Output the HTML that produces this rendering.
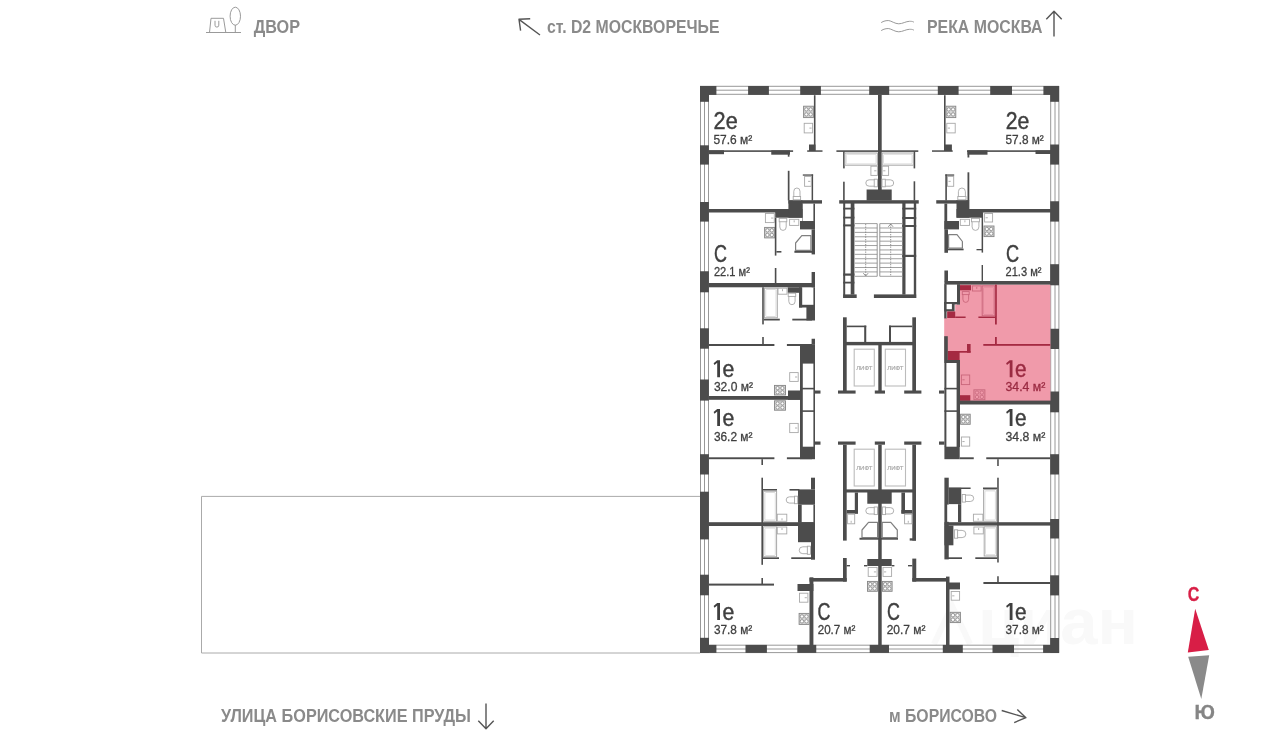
<!DOCTYPE html>
<html lang="ru"><head><meta charset="utf-8"><title>План этажа</title>
<style>
html,body{margin:0;padding:0;background:#fff;}
body{width:1280px;height:736px;overflow:hidden;font-family:"Liberation Sans",sans-serif;}
svg{display:block;will-change:transform;transform:translateZ(0);}
svg text{font-family:"Liberation Sans",sans-serif;}
</style></head><body>
<svg width="1280" height="736" viewBox="0 0 1280 736">
<rect width="1280" height="736" fill="#ffffff"/>
<path d="M700,496.4 H201.5 V653 H700" fill="none" stroke="#aaaaaa" stroke-width="1"/>
<text x="978" y="644" font-size="64" font-weight="bold" fill="#f9f9f9" textLength="160" lengthAdjust="spacingAndGlyphs">циан</text>
<path d="M934,644 L952,606 L970,644" fill="none" stroke="#f9f9f9" stroke-width="6"/>
<line x1="700.00" y1="86.30" x2="1059.00" y2="86.30" stroke="#8c8c8c" stroke-width="0.9" />
<line x1="700.00" y1="90.20" x2="1059.00" y2="90.20" stroke="#8c8c8c" stroke-width="0.9" />
<line x1="700.00" y1="94.30" x2="1059.00" y2="94.30" stroke="#8c8c8c" stroke-width="0.9" />
<line x1="700.00" y1="645.20" x2="1059.00" y2="645.20" stroke="#8c8c8c" stroke-width="0.9" />
<line x1="700.00" y1="649.00" x2="1059.00" y2="649.00" stroke="#8c8c8c" stroke-width="0.9" />
<line x1="700.00" y1="652.60" x2="1059.00" y2="652.60" stroke="#8c8c8c" stroke-width="0.9" />
<line x1="700.50" y1="86.00" x2="700.50" y2="652.90" stroke="#8c8c8c" stroke-width="0.9" />
<line x1="704.50" y1="86.00" x2="704.50" y2="652.90" stroke="#8c8c8c" stroke-width="0.9" />
<line x1="708.50" y1="86.00" x2="708.50" y2="652.90" stroke="#8c8c8c" stroke-width="0.9" />
<line x1="1050.70" y1="86.00" x2="1050.70" y2="652.90" stroke="#8c8c8c" stroke-width="0.9" />
<line x1="1055.00" y1="86.00" x2="1055.00" y2="652.90" stroke="#8c8c8c" stroke-width="0.9" />
<line x1="1058.90" y1="86.00" x2="1058.90" y2="652.90" stroke="#8c8c8c" stroke-width="0.9" />
<rect x="700.00" y="86.00" width="16.40" height="8.90" fill="#4c4c4c"/>
<rect x="748.10" y="86.00" width="20.80" height="8.90" fill="#4c4c4c"/>
<rect x="800.20" y="86.00" width="20.70" height="8.90" fill="#4c4c4c"/>
<rect x="869.20" y="86.00" width="20.00" height="8.90" fill="#4c4c4c"/>
<rect x="937.80" y="86.00" width="20.80" height="8.90" fill="#4c4c4c"/>
<rect x="990.20" y="86.00" width="21.80" height="8.90" fill="#4c4c4c"/>
<rect x="1043.40" y="86.00" width="15.60" height="8.90" fill="#4c4c4c"/>
<rect x="700.00" y="86.00" width="9.00" height="15.80" fill="#4c4c4c"/>
<rect x="1050.20" y="86.00" width="8.80" height="15.80" fill="#4c4c4c"/>
<rect x="700.00" y="644.90" width="16.40" height="8.00" fill="#4c4c4c"/>
<rect x="745.50" y="644.90" width="21.40" height="8.00" fill="#4c4c4c"/>
<rect x="797.30" y="644.90" width="18.95" height="8.00" fill="#4c4c4c"/>
<rect x="869.70" y="644.90" width="19.30" height="8.00" fill="#4c4c4c"/>
<rect x="942.80" y="644.90" width="20.00" height="8.00" fill="#4c4c4c"/>
<rect x="992.50" y="644.90" width="21.50" height="8.00" fill="#4c4c4c"/>
<rect x="1043.10" y="644.90" width="15.90" height="8.00" fill="#4c4c4c"/>
<rect x="700.00" y="637.80" width="9.00" height="15.10" fill="#4c4c4c"/>
<rect x="1050.20" y="638.00" width="8.80" height="14.90" fill="#4c4c4c"/>
<rect x="700.00" y="145.30" width="8.90" height="19.30" fill="#4c4c4c"/>
<rect x="700.00" y="202.00" width="8.90" height="19.60" fill="#4c4c4c"/>
<rect x="700.00" y="271.25" width="8.90" height="21.05" fill="#4c4c4c"/>
<rect x="700.00" y="328.30" width="8.90" height="20.40" fill="#4c4c4c"/>
<rect x="700.00" y="379.50" width="8.90" height="21.10" fill="#4c4c4c"/>
<rect x="700.00" y="454.20" width="8.90" height="20.30" fill="#4c4c4c"/>
<rect x="700.00" y="491.70" width="8.90" height="47.70" fill="#4c4c4c"/>
<rect x="700.00" y="574.70" width="8.90" height="20.60" fill="#4c4c4c"/>
<rect x="1050.20" y="144.50" width="8.80" height="20.10" fill="#4c4c4c"/>
<rect x="1050.20" y="201.25" width="8.80" height="20.35" fill="#4c4c4c"/>
<rect x="1050.20" y="264.20" width="8.80" height="21.10" fill="#4c4c4c"/>
<rect x="1050.20" y="328.75" width="8.80" height="20.25" fill="#4c4c4c"/>
<rect x="1050.20" y="391.50" width="8.80" height="20.80" fill="#4c4c4c"/>
<rect x="1050.20" y="454.20" width="8.80" height="20.30" fill="#4c4c4c"/>
<rect x="1050.20" y="519.00" width="8.80" height="19.50" fill="#4c4c4c"/>
<rect x="1050.20" y="575.30" width="8.80" height="20.10" fill="#4c4c4c"/>
<path d="M960,284.5 H1050.4 V401 H960 V360 H944.2 V318 H947.2 V311.7 H955.2 V304.4 H960 Z" fill="#f09aaa"/>
<rect x="878.00" y="95.00" width="3.70" height="105.00" fill="#4c4c4c"/>
<rect x="878.30" y="345.00" width="3.40" height="46.00" fill="#4c4c4c"/>
<rect x="874.80" y="390.50" width="10.20" height="3.10" fill="#4c4c4c"/>
<rect x="874.80" y="441.50" width="10.20" height="3.20" fill="#4c4c4c"/>
<rect x="878.20" y="444.70" width="3.50" height="200.30" fill="#4c4c4c"/>
<rect x="813.90" y="95.20" width="1.60" height="55.60" fill="#4c4c4c"/>
<rect x="809.00" y="144.50" width="6.50" height="6.50" fill="#4c4c4c"/>
<rect x="807.20" y="150.30" width="15.30" height="1.50" fill="#4c4c4c"/>
<rect x="708.40" y="150.30" width="84.70" height="1.60" fill="#4c4c4c"/>
<rect x="709.00" y="150.30" width="15.00" height="3.90" fill="#4c4c4c"/>
<rect x="771.25" y="150.30" width="18.75" height="4.40" fill="#4c4c4c"/>
<rect x="787.80" y="151.00" width="1.70" height="5.70" fill="#4c4c4c"/>
<rect x="787.80" y="170.80" width="1.70" height="29.70" fill="#4c4c4c"/>
<rect x="802.80" y="174.40" width="10.30" height="1.30" fill="#4c4c4c"/>
<rect x="811.60" y="174.40" width="1.50" height="26.10" fill="#4c4c4c"/>
<rect x="788.40" y="200.20" width="33.60" height="3.40" fill="#4c4c4c"/>
<rect x="788.40" y="200.50" width="14.10" height="17.20" fill="#4c4c4c"/>
<rect x="775.20" y="209.00" width="27.30" height="8.70" fill="#4c4c4c"/>
<rect x="708.40" y="209.00" width="80.00" height="3.50" fill="#4c4c4c"/>
<rect x="813.40" y="203.60" width="1.60" height="25.80" fill="#4c4c4c"/>
<rect x="800.00" y="221.00" width="15.00" height="8.40" fill="#4c4c4c"/>
<rect x="802.50" y="203.60" width="0.50" height="17.40" fill="#4c4c4c"/>
<rect x="811.60" y="229.40" width="3.40" height="25.00" fill="#4c4c4c"/>
<rect x="794.40" y="250.70" width="20.60" height="2.10" fill="#4c4c4c"/>
<rect x="774.80" y="217.70" width="1.60" height="37.90" fill="#4c4c4c"/>
<rect x="776.40" y="251.00" width="5.00" height="1.60" fill="#4c4c4c"/>
<rect x="774.80" y="268.00" width="1.60" height="15.40" fill="#4c4c4c"/>
<rect x="811.60" y="272.00" width="3.40" height="15.30" fill="#4c4c4c"/>
<rect x="709.00" y="283.00" width="106.00" height="4.30" fill="#4c4c4c"/>
<rect x="762.20" y="287.30" width="1.60" height="37.10" fill="#4c4c4c"/>
<rect x="763.75" y="318.70" width="16.05" height="1.80" fill="#4c4c4c"/>
<rect x="787.70" y="287.30" width="14.00" height="5.50" fill="#4c4c4c"/>
<rect x="799.00" y="287.30" width="3.20" height="20.20" fill="#4c4c4c"/>
<rect x="799.00" y="304.80" width="16.00" height="2.70" fill="#4c4c4c"/>
<rect x="813.40" y="287.30" width="1.60" height="18.00" fill="#4c4c4c"/>
<rect x="806.40" y="305.30" width="8.60" height="15.20" fill="#4c4c4c"/>
<rect x="792.30" y="318.70" width="19.70" height="1.80" fill="#4c4c4c"/>
<rect x="709.00" y="344.00" width="65.40" height="2.00" fill="#4c4c4c"/>
<rect x="762.20" y="337.00" width="1.60" height="7.40" fill="#4c4c4c"/>
<rect x="786.90" y="344.00" width="25.10" height="2.00" fill="#4c4c4c"/>
<rect x="811.60" y="338.75" width="3.40" height="5.95" fill="#4c4c4c"/>
<rect x="800.00" y="344.40" width="15.00" height="19.20" fill="#4c4c4c"/>
<rect x="800.00" y="363.00" width="2.80" height="84.00" fill="#4c4c4c"/>
<rect x="813.40" y="363.00" width="1.60" height="84.00" fill="#4c4c4c"/>
<rect x="800.00" y="387.80" width="15.00" height="1.60" fill="#4c4c4c"/>
<rect x="800.00" y="410.30" width="15.00" height="1.60" fill="#4c4c4c"/>
<rect x="800.00" y="446.70" width="15.00" height="12.50" fill="#4c4c4c"/>
<rect x="815.00" y="390.50" width="5.50" height="3.10" fill="#4c4c4c"/>
<rect x="815.00" y="441.50" width="5.50" height="3.20" fill="#4c4c4c"/>
<rect x="709.00" y="396.00" width="91.00" height="3.80" fill="#4c4c4c"/>
<rect x="788.00" y="390.50" width="12.00" height="9.30" fill="#4c4c4c"/>
<rect x="709.00" y="457.30" width="65.40" height="1.90" fill="#4c4c4c"/>
<rect x="761.40" y="459.20" width="1.60" height="5.80" fill="#4c4c4c"/>
<rect x="786.90" y="457.30" width="25.10" height="1.90" fill="#4c4c4c"/>
<rect x="811.00" y="477.70" width="4.00" height="11.70" fill="#4c4c4c"/>
<rect x="761.40" y="477.70" width="1.60" height="87.10" fill="#4c4c4c"/>
<rect x="763.00" y="489.00" width="14.00" height="1.60" fill="#4c4c4c"/>
<rect x="789.50" y="489.00" width="9.90" height="1.60" fill="#4c4c4c"/>
<rect x="798.00" y="489.40" width="17.00" height="15.30" fill="#4c4c4c"/>
<rect x="798.00" y="504.70" width="3.70" height="17.50" fill="#4c4c4c"/>
<rect x="813.40" y="504.70" width="1.60" height="17.50" fill="#4c4c4c"/>
<rect x="708.40" y="522.20" width="106.60" height="3.80" fill="#4c4c4c"/>
<rect x="798.00" y="522.20" width="17.00" height="20.00" fill="#4c4c4c"/>
<rect x="811.00" y="541.90" width="4.00" height="17.80" fill="#4c4c4c"/>
<rect x="763.00" y="557.30" width="16.00" height="1.70" fill="#4c4c4c"/>
<rect x="791.25" y="557.30" width="20.75" height="1.70" fill="#4c4c4c"/>
<rect x="709.00" y="583.60" width="65.00" height="2.00" fill="#4c4c4c"/>
<rect x="761.40" y="578.00" width="1.60" height="6.00" fill="#4c4c4c"/>
<rect x="797.50" y="584.00" width="15.90" height="7.00" fill="#4c4c4c"/>
<rect x="809.50" y="577.30" width="3.90" height="67.70" fill="#4c4c4c"/>
<rect x="809.50" y="578.00" width="37.20" height="3.60" fill="#4c4c4c"/>
<rect x="843.00" y="558.00" width="3.70" height="23.60" fill="#4c4c4c"/>
<rect x="846.70" y="565.00" width="3.30" height="1.40" fill="#4c4c4c"/>
<rect x="836.40" y="150.30" width="81.90" height="1.60" fill="#4c4c4c"/>
<rect x="843.10" y="151.25" width="1.60" height="17.15" fill="#4c4c4c"/>
<rect x="843.10" y="181.70" width="1.60" height="18.80" fill="#4c4c4c"/>
<rect x="913.60" y="151.25" width="1.60" height="17.15" fill="#4c4c4c"/>
<rect x="913.60" y="181.30" width="1.60" height="19.20" fill="#4c4c4c"/>
<rect x="866.60" y="189.50" width="25.10" height="11.00" fill="#4c4c4c"/>
<rect x="839.20" y="200.20" width="79.55" height="3.40" fill="#4c4c4c"/>
<rect x="843.20" y="203.00" width="2.00" height="95.00" fill="#4c4c4c"/>
<rect x="850.70" y="203.00" width="3.70" height="91.60" fill="#4c4c4c"/>
<rect x="843.20" y="207.70" width="11.20" height="1.80" fill="#4c4c4c"/>
<rect x="843.20" y="216.70" width="11.20" height="1.80" fill="#4c4c4c"/>
<rect x="843.20" y="224.40" width="11.20" height="2.00" fill="#4c4c4c"/>
<rect x="843.20" y="273.50" width="11.20" height="2.20" fill="#4c4c4c"/>
<rect x="843.20" y="281.70" width="11.20" height="1.80" fill="#4c4c4c"/>
<rect x="843.20" y="294.40" width="13.50" height="3.60" fill="#4c4c4c"/>
<rect x="902.30" y="203.00" width="3.20" height="91.60" fill="#4c4c4c"/>
<rect x="913.80" y="203.00" width="2.40" height="95.00" fill="#4c4c4c"/>
<rect x="902.30" y="207.70" width="13.90" height="1.80" fill="#4c4c4c"/>
<rect x="902.30" y="217.00" width="13.90" height="2.00" fill="#4c4c4c"/>
<rect x="902.30" y="225.00" width="13.90" height="2.00" fill="#4c4c4c"/>
<rect x="902.30" y="254.80" width="13.90" height="2.20" fill="#4c4c4c"/>
<rect x="873.90" y="294.40" width="42.30" height="3.60" fill="#4c4c4c"/>
<line x1="854.40" y1="223.60" x2="877.20" y2="223.60" stroke="#a0a0a0" stroke-width="1.0" />
<line x1="879.80" y1="223.60" x2="902.30" y2="223.60" stroke="#a0a0a0" stroke-width="1.0" />
<line x1="854.40" y1="227.99" x2="877.20" y2="227.99" stroke="#a0a0a0" stroke-width="1.0" />
<line x1="879.80" y1="227.99" x2="902.30" y2="227.99" stroke="#a0a0a0" stroke-width="1.0" />
<line x1="854.40" y1="232.38" x2="877.20" y2="232.38" stroke="#a0a0a0" stroke-width="1.0" />
<line x1="879.80" y1="232.38" x2="902.30" y2="232.38" stroke="#a0a0a0" stroke-width="1.0" />
<line x1="854.40" y1="236.78" x2="877.20" y2="236.78" stroke="#a0a0a0" stroke-width="1.0" />
<line x1="879.80" y1="236.78" x2="902.30" y2="236.78" stroke="#a0a0a0" stroke-width="1.0" />
<line x1="854.40" y1="241.17" x2="877.20" y2="241.17" stroke="#a0a0a0" stroke-width="1.0" />
<line x1="879.80" y1="241.17" x2="902.30" y2="241.17" stroke="#a0a0a0" stroke-width="1.0" />
<line x1="854.40" y1="245.56" x2="877.20" y2="245.56" stroke="#a0a0a0" stroke-width="1.0" />
<line x1="879.80" y1="245.56" x2="902.30" y2="245.56" stroke="#a0a0a0" stroke-width="1.0" />
<line x1="854.40" y1="249.95" x2="877.20" y2="249.95" stroke="#a0a0a0" stroke-width="1.0" />
<line x1="879.80" y1="249.95" x2="902.30" y2="249.95" stroke="#a0a0a0" stroke-width="1.0" />
<line x1="854.40" y1="254.34" x2="877.20" y2="254.34" stroke="#a0a0a0" stroke-width="1.0" />
<line x1="879.80" y1="254.34" x2="902.30" y2="254.34" stroke="#a0a0a0" stroke-width="1.0" />
<line x1="854.40" y1="258.73" x2="877.20" y2="258.73" stroke="#a0a0a0" stroke-width="1.0" />
<line x1="879.80" y1="258.73" x2="902.30" y2="258.73" stroke="#a0a0a0" stroke-width="1.0" />
<line x1="854.40" y1="263.12" x2="877.20" y2="263.12" stroke="#a0a0a0" stroke-width="1.0" />
<line x1="879.80" y1="263.12" x2="902.30" y2="263.12" stroke="#a0a0a0" stroke-width="1.0" />
<line x1="854.40" y1="267.52" x2="877.20" y2="267.52" stroke="#a0a0a0" stroke-width="1.0" />
<line x1="879.80" y1="267.52" x2="902.30" y2="267.52" stroke="#a0a0a0" stroke-width="1.0" />
<line x1="854.40" y1="271.91" x2="877.20" y2="271.91" stroke="#a0a0a0" stroke-width="1.0" />
<line x1="879.80" y1="271.91" x2="902.30" y2="271.91" stroke="#a0a0a0" stroke-width="1.0" />
<line x1="854.40" y1="276.30" x2="877.20" y2="276.30" stroke="#a0a0a0" stroke-width="1.0" />
<line x1="879.80" y1="276.30" x2="902.30" y2="276.30" stroke="#a0a0a0" stroke-width="1.0" />
<line x1="877.20" y1="223.60" x2="877.20" y2="276.30" stroke="#8a8a8a" stroke-width="0.9" />
<line x1="879.80" y1="223.60" x2="879.80" y2="276.30" stroke="#8a8a8a" stroke-width="0.9" />
<line x1="865.70" y1="224.00" x2="865.70" y2="276.00" stroke="#777" stroke-width="0.8" stroke-dasharray="1.3 1.2"/>
<line x1="890.70" y1="224.00" x2="890.70" y2="276.00" stroke="#777" stroke-width="0.8" stroke-dasharray="1.3 1.2"/>
<path d="M863.3,273.2 L865.7,276 L868.1,273.2" fill="none" stroke="#777" stroke-width="0.8" stroke-linejoin="round"/>
<path d="M888.3,226.8 L890.7,224 L893.1,226.8" fill="none" stroke="#777" stroke-width="0.8" stroke-linejoin="round"/>
<rect x="843.00" y="317.30" width="3.70" height="73.70" fill="#4c4c4c"/>
<rect x="838.00" y="390.50" width="17.60" height="3.10" fill="#4c4c4c"/>
<rect x="846.70" y="325.60" width="19.55" height="1.60" fill="#4c4c4c"/>
<rect x="864.20" y="325.60" width="2.05" height="16.70" fill="#4c4c4c"/>
<rect x="843.00" y="341.90" width="73.00" height="3.40" fill="#4c4c4c"/>
<rect x="912.30" y="317.30" width="3.70" height="73.70" fill="#4c4c4c"/>
<rect x="904.20" y="390.50" width="17.20" height="3.10" fill="#4c4c4c"/>
<rect x="889.00" y="325.60" width="23.30" height="1.60" fill="#4c4c4c"/>
<rect x="889.00" y="325.60" width="2.00" height="16.70" fill="#4c4c4c"/>
<rect x="854.20" y="349.20" width="20.10" height="36.80" fill="none" stroke="#bcbcbc" stroke-width="1.1" rx="0"/>
<text x="864.25" y="369.90" font-size="5.8" fill="#a8a8a8" stroke="#a8a8a8" stroke-width="0.15" text-anchor="middle" textLength="16.2" lengthAdjust="spacingAndGlyphs">ЛИФТ</text>
<rect x="885.30" y="349.20" width="20.20" height="36.80" fill="none" stroke="#bcbcbc" stroke-width="1.1" rx="0"/>
<text x="895.40" y="369.90" font-size="5.8" fill="#a8a8a8" stroke="#a8a8a8" stroke-width="0.15" text-anchor="middle" textLength="16.2" lengthAdjust="spacingAndGlyphs">ЛИФТ</text>
<rect x="838.00" y="441.50" width="17.60" height="3.20" fill="#4c4c4c"/>
<rect x="904.20" y="441.50" width="17.20" height="3.20" fill="#4c4c4c"/>
<rect x="843.00" y="444.70" width="3.70" height="95.90" fill="#4c4c4c"/>
<rect x="912.30" y="444.70" width="3.70" height="95.90" fill="#4c4c4c"/>
<rect x="854.20" y="449.20" width="20.10" height="36.80" fill="none" stroke="#bcbcbc" stroke-width="1.1" rx="0"/>
<text x="864.25" y="469.90" font-size="5.8" fill="#a8a8a8" stroke="#a8a8a8" stroke-width="0.15" text-anchor="middle" textLength="16.2" lengthAdjust="spacingAndGlyphs">ЛИФТ</text>
<rect x="885.30" y="449.20" width="20.20" height="36.80" fill="none" stroke="#bcbcbc" stroke-width="1.1" rx="0"/>
<text x="895.40" y="469.90" font-size="5.8" fill="#a8a8a8" stroke="#a8a8a8" stroke-width="0.15" text-anchor="middle" textLength="16.2" lengthAdjust="spacingAndGlyphs">ЛИФТ</text>
<rect x="843.00" y="489.40" width="73.00" height="3.10" fill="#4c4c4c"/>
<rect x="867.30" y="490.00" width="24.40" height="13.75" fill="#4c4c4c"/>
<rect x="854.80" y="492.50" width="3.20" height="21.10" fill="#4c4c4c"/>
<rect x="846.70" y="510.00" width="11.30" height="3.60" fill="#4c4c4c"/>
<rect x="901.40" y="492.50" width="3.60" height="21.10" fill="#4c4c4c"/>
<rect x="901.40" y="510.00" width="10.90" height="3.60" fill="#4c4c4c"/>
<rect x="859.50" y="537.80" width="38.50" height="1.90" fill="#4c4c4c"/>
<rect x="909.70" y="538.30" width="6.30" height="2.30" fill="#4c4c4c"/>
<rect x="867.30" y="559.00" width="24.40" height="7.00" fill="#4c4c4c"/>
<rect x="864.00" y="565.00" width="3.30" height="1.40" fill="#4c4c4c"/>
<rect x="891.70" y="565.00" width="2.70" height="1.40" fill="#4c4c4c"/>
<rect x="912.30" y="558.60" width="3.95" height="23.00" fill="#4c4c4c"/>
<rect x="908.00" y="565.00" width="4.30" height="1.40" fill="#4c4c4c"/>
<rect x="912.30" y="578.00" width="35.20" height="3.60" fill="#4c4c4c"/>
<rect x="946.00" y="576.60" width="3.50" height="68.40" fill="#4c4c4c"/>
<rect x="947.20" y="582.50" width="12.80" height="6.90" fill="#4c4c4c"/>
<rect x="944.00" y="95.20" width="1.60" height="55.60" fill="#4c4c4c"/>
<rect x="944.00" y="144.50" width="7.90" height="6.50" fill="#4c4c4c"/>
<rect x="932.00" y="150.30" width="20.70" height="1.50" fill="#4c4c4c"/>
<rect x="967.00" y="150.30" width="84.00" height="1.60" fill="#4c4c4c"/>
<rect x="967.50" y="150.30" width="20.00" height="4.40" fill="#4c4c4c"/>
<rect x="1035.50" y="150.30" width="15.50" height="3.70" fill="#4c4c4c"/>
<rect x="967.50" y="151.00" width="1.80" height="6.50" fill="#4c4c4c"/>
<rect x="967.50" y="172.30" width="1.80" height="28.20" fill="#4c4c4c"/>
<rect x="945.30" y="174.40" width="8.90" height="1.30" fill="#4c4c4c"/>
<rect x="945.30" y="174.40" width="1.60" height="26.10" fill="#4c4c4c"/>
<rect x="936.25" y="200.20" width="32.75" height="3.40" fill="#4c4c4c"/>
<rect x="956.50" y="200.20" width="12.90" height="17.50" fill="#4c4c4c"/>
<rect x="956.50" y="209.00" width="26.30" height="8.70" fill="#4c4c4c"/>
<rect x="969.00" y="209.00" width="82.00" height="3.50" fill="#4c4c4c"/>
<rect x="944.40" y="203.60" width="2.80" height="25.80" fill="#4c4c4c"/>
<rect x="944.40" y="221.00" width="14.60" height="8.40" fill="#4c4c4c"/>
<rect x="944.40" y="229.40" width="3.60" height="23.40" fill="#4c4c4c"/>
<rect x="948.00" y="248.60" width="15.60" height="1.70" fill="#4c4c4c"/>
<rect x="981.60" y="212.50" width="1.50" height="40.10" fill="#4c4c4c"/>
<rect x="976.50" y="249.00" width="5.50" height="1.30" fill="#4c4c4c"/>
<rect x="981.60" y="265.00" width="1.40" height="16.00" fill="#4c4c4c"/>
<rect x="944.40" y="270.50" width="3.60" height="10.90" fill="#4c4c4c"/>
<rect x="944.40" y="281.00" width="106.60" height="3.60" fill="#4c4c4c"/>
<rect x="944.20" y="284.20" width="2.40" height="34.20" fill="#4c4c4c"/>
<rect x="957.00" y="284.20" width="3.00" height="20.20" fill="#4c4c4c"/>
<rect x="944.20" y="302.00" width="15.80" height="2.40" fill="#4c4c4c"/>
<rect x="944.20" y="302.00" width="10.40" height="9.40" fill="#4c4c4c"/>
<rect x="946.60" y="303.90" width="5.30" height="5.30" fill="#fff"/>
<rect x="960.00" y="285.20" width="11.00" height="5.10" fill="#a52a42"/>
<rect x="947.20" y="311.40" width="8.00" height="6.60" fill="#a52a42"/>
<rect x="955.20" y="316.50" width="10.40" height="1.50" fill="#a52a42"/>
<rect x="978.40" y="316.50" width="17.60" height="1.50" fill="#a52a42"/>
<rect x="995.00" y="284.60" width="1.80" height="39.90" fill="#a52a42"/>
<rect x="995.00" y="337.00" width="1.80" height="7.70" fill="#a52a42"/>
<rect x="983.30" y="344.00" width="67.00" height="1.80" fill="#a52a42"/>
<rect x="967.00" y="344.00" width="3.60" height="8.70" fill="#a52a42"/>
<rect x="947.80" y="351.00" width="22.80" height="1.70" fill="#a52a42"/>
<rect x="947.80" y="351.80" width="11.80" height="8.20" fill="#a52a42"/>
<rect x="944.20" y="336.20" width="3.60" height="23.80" fill="#4c4c4c"/>
<rect x="960.00" y="395.20" width="10.30" height="5.60" fill="#a52a42"/>
<rect x="960.00" y="400.60" width="91.00" height="3.90" fill="#4c4c4c"/>
<rect x="944.40" y="360.00" width="2.00" height="87.00" fill="#4c4c4c"/>
<rect x="956.60" y="360.00" width="3.40" height="87.00" fill="#4c4c4c"/>
<rect x="944.40" y="360.00" width="15.60" height="3.00" fill="#4c4c4c"/>
<rect x="944.40" y="387.80" width="15.60" height="1.60" fill="#4c4c4c"/>
<rect x="944.40" y="410.30" width="15.60" height="1.60" fill="#4c4c4c"/>
<rect x="944.40" y="446.70" width="15.30" height="12.50" fill="#4c4c4c"/>
<rect x="939.00" y="390.50" width="5.40" height="3.10" fill="#4c4c4c"/>
<rect x="939.00" y="441.50" width="5.40" height="3.20" fill="#4c4c4c"/>
<rect x="986.25" y="457.30" width="64.05" height="1.90" fill="#4c4c4c"/>
<rect x="997.20" y="459.20" width="1.55" height="6.80" fill="#4c4c4c"/>
<rect x="959.70" y="457.30" width="14.05" height="1.90" fill="#4c4c4c"/>
<rect x="944.40" y="477.70" width="4.35" height="81.70" fill="#4c4c4c"/>
<rect x="948.75" y="487.80" width="12.50" height="16.40" fill="#4c4c4c"/>
<rect x="948.75" y="487.50" width="21.85" height="1.50" fill="#4c4c4c"/>
<rect x="958.00" y="504.20" width="3.25" height="18.00" fill="#4c4c4c"/>
<rect x="947.20" y="504.60" width="10.80" height="17.20" fill="#fff"/>
<rect x="944.40" y="522.20" width="106.60" height="3.40" fill="#4c4c4c"/>
<rect x="997.20" y="477.70" width="1.55" height="84.80" fill="#4c4c4c"/>
<rect x="983.00" y="487.50" width="14.20" height="1.50" fill="#4c4c4c"/>
<rect x="944.40" y="525.60" width="9.00" height="19.70" fill="#4c4c4c"/>
<rect x="948.00" y="557.30" width="14.00" height="1.70" fill="#4c4c4c"/>
<rect x="975.30" y="557.30" width="21.90" height="1.70" fill="#4c4c4c"/>
<rect x="983.40" y="582.00" width="66.90" height="2.00" fill="#4c4c4c"/>
<rect x="997.20" y="576.25" width="1.55" height="6.25" fill="#4c4c4c"/>
<rect x="803.60" y="106.20" width="9.80" height="11.40" fill="#d6d6d6" stroke="#858585" stroke-width="0.9" rx="0"/>
<circle cx="806.34" cy="109.39" r="1.67" fill="#fff" stroke="#858585" stroke-width="0.8"/>
<circle cx="806.34" cy="114.41" r="1.67" fill="#fff" stroke="#858585" stroke-width="0.8"/>
<circle cx="810.66" cy="109.39" r="1.67" fill="#fff" stroke="#858585" stroke-width="0.8"/>
<circle cx="810.66" cy="114.41" r="1.67" fill="#fff" stroke="#858585" stroke-width="0.8"/>
<rect x="804.20" y="123.30" width="8.40" height="9.60" fill="none" stroke="#a8a8a8" stroke-width="0.9" rx="0"/>
<line x1="809.40" y1="128.10" x2="811.60" y2="128.10" stroke="#a8a8a8" stroke-width="0.9" />
<rect x="804.60" y="176.40" width="6.70" height="9.90" fill="none" stroke="#a8a8a8" stroke-width="0.9" rx="0"/>
<line x1="808.10" y1="181.35" x2="810.30" y2="181.35" stroke="#a8a8a8" stroke-width="0.9" />
<rect x="793.20" y="196.50" width="7.40" height="3.30" fill="none" stroke="#a8a8a8" stroke-width="0.9" rx="0"/>
<path d="M793.80,196.50 V191.33 A3.10,3.33 0 0 1 800.00,191.33 V196.50" fill="none" stroke="#a8a8a8" stroke-width="0.9" stroke-linejoin="round"/>
<rect x="946.00" y="106.20" width="9.80" height="11.40" fill="#d6d6d6" stroke="#858585" stroke-width="0.9" rx="0"/>
<circle cx="948.74" cy="109.39" r="1.67" fill="#fff" stroke="#858585" stroke-width="0.8"/>
<circle cx="948.74" cy="114.41" r="1.67" fill="#fff" stroke="#858585" stroke-width="0.8"/>
<circle cx="953.06" cy="109.39" r="1.67" fill="#fff" stroke="#858585" stroke-width="0.8"/>
<circle cx="953.06" cy="114.41" r="1.67" fill="#fff" stroke="#858585" stroke-width="0.8"/>
<rect x="946.80" y="123.30" width="8.40" height="9.60" fill="none" stroke="#a8a8a8" stroke-width="0.9" rx="0"/>
<line x1="947.80" y1="128.10" x2="950.00" y2="128.10" stroke="#a8a8a8" stroke-width="0.9" />
<rect x="947.50" y="176.40" width="6.20" height="9.90" fill="none" stroke="#a8a8a8" stroke-width="0.9" rx="0"/>
<line x1="948.50" y1="181.35" x2="950.70" y2="181.35" stroke="#a8a8a8" stroke-width="0.9" />
<rect x="957.80" y="196.50" width="8.20" height="3.30" fill="none" stroke="#a8a8a8" stroke-width="0.9" rx="0"/>
<path d="M958.40,196.50 V191.69 A3.50,3.69 0 0 1 965.40,191.69 V196.50" fill="none" stroke="#a8a8a8" stroke-width="0.9" stroke-linejoin="round"/>
<rect x="844.90" y="153.00" width="32.50" height="12.20" fill="none" stroke="#a8a8a8" stroke-width="1.0" rx="0"/>
<rect x="846.20" y="154.30" width="29.90" height="9.60" fill="none" stroke="#cfcfcf" stroke-width="0.7" rx="1"/>
<rect x="882.20" y="153.00" width="31.20" height="12.20" fill="none" stroke="#a8a8a8" stroke-width="1.0" rx="0"/>
<rect x="883.50" y="154.30" width="28.60" height="9.60" fill="none" stroke="#cfcfcf" stroke-width="0.7" rx="1"/>
<rect x="870.90" y="166.20" width="6.50" height="9.20" fill="none" stroke="#a8a8a8" stroke-width="0.9" rx="0"/>
<line x1="874.20" y1="170.80" x2="876.40" y2="170.80" stroke="#a8a8a8" stroke-width="0.9" />
<rect x="882.20" y="166.20" width="6.40" height="9.20" fill="none" stroke="#a8a8a8" stroke-width="0.9" rx="0"/>
<line x1="883.20" y1="170.80" x2="885.40" y2="170.80" stroke="#a8a8a8" stroke-width="0.9" />
<rect x="874.22" y="179.20" width="3.28" height="7.60" fill="none" stroke="#a8a8a8" stroke-width="0.9" rx="0"/>
<path d="M874.22,179.80 H869.22 A3.42,3.20 0 0 0 869.22,186.20 H874.22" fill="none" stroke="#a8a8a8" stroke-width="0.9" stroke-linejoin="round"/>
<rect x="882.00" y="179.20" width="3.28" height="7.60" fill="none" stroke="#a8a8a8" stroke-width="0.9" rx="0"/>
<path d="M885.28,179.80 H890.28 A3.42,3.20 0 0 1 890.28,186.20 H885.28" fill="none" stroke="#a8a8a8" stroke-width="0.9" stroke-linejoin="round"/>
<rect x="765.40" y="213.50" width="8.90" height="9.10" fill="none" stroke="#a8a8a8" stroke-width="0.9" rx="0"/>
<line x1="771.10" y1="218.05" x2="773.30" y2="218.05" stroke="#a8a8a8" stroke-width="0.9" />
<rect x="764.60" y="227.40" width="10.00" height="10.50" fill="#d6d6d6" stroke="#858585" stroke-width="0.9" rx="0"/>
<circle cx="767.40" cy="230.34" r="1.70" fill="#fff" stroke="#858585" stroke-width="0.8"/>
<circle cx="767.40" cy="234.96" r="1.70" fill="#fff" stroke="#858585" stroke-width="0.8"/>
<circle cx="771.80" cy="230.34" r="1.70" fill="#fff" stroke="#858585" stroke-width="0.8"/>
<circle cx="771.80" cy="234.96" r="1.70" fill="#fff" stroke="#858585" stroke-width="0.8"/>
<rect x="779.20" y="218.40" width="7.60" height="3.36" fill="none" stroke="#a8a8a8" stroke-width="0.9" rx="0"/>
<path d="M779.80,221.76 V226.98 A3.20,3.42 0 0 0 786.20,226.98 V221.76" fill="none" stroke="#a8a8a8" stroke-width="0.9" stroke-linejoin="round"/>
<rect x="789.60" y="219.30" width="9.20" height="6.10" fill="none" stroke="#a8a8a8" stroke-width="0.9" rx="0"/>
<line x1="794.20" y1="220.30" x2="794.20" y2="222.30" stroke="#a8a8a8" stroke-width="0.9" />
<path d="M801.8,235.7 H810.9 V250.3 H795.6 V243 Z" fill="none" stroke="#808080" stroke-width="1.2" stroke-linejoin="round"/>
<rect x="984.60" y="213.50" width="8.00" height="8.50" fill="none" stroke="#a8a8a8" stroke-width="0.9" rx="0"/>
<line x1="985.60" y1="217.75" x2="987.80" y2="217.75" stroke="#a8a8a8" stroke-width="0.9" />
<rect x="984.00" y="226.00" width="10.00" height="10.60" fill="#d6d6d6" stroke="#858585" stroke-width="0.9" rx="0"/>
<circle cx="986.80" cy="228.97" r="1.70" fill="#fff" stroke="#858585" stroke-width="0.8"/>
<circle cx="986.80" cy="233.63" r="1.70" fill="#fff" stroke="#858585" stroke-width="0.8"/>
<circle cx="991.20" cy="228.97" r="1.70" fill="#fff" stroke="#858585" stroke-width="0.8"/>
<circle cx="991.20" cy="233.63" r="1.70" fill="#fff" stroke="#858585" stroke-width="0.8"/>
<rect x="971.50" y="218.40" width="8.00" height="3.36" fill="none" stroke="#a8a8a8" stroke-width="0.9" rx="0"/>
<path d="M972.10,221.76 V226.80 A3.40,3.60 0 0 0 978.90,226.80 V221.76" fill="none" stroke="#a8a8a8" stroke-width="0.9" stroke-linejoin="round"/>
<rect x="960.30" y="219.30" width="9.20" height="6.10" fill="none" stroke="#a8a8a8" stroke-width="0.9" rx="0"/>
<line x1="964.90" y1="220.30" x2="964.90" y2="222.30" stroke="#a8a8a8" stroke-width="0.9" />
<path d="M957,234.6 H948.6 V248.2 H962.4 V241.5 Z" fill="none" stroke="#808080" stroke-width="1.2" stroke-linejoin="round"/>
<rect x="764.40" y="288.20" width="12.90" height="29.60" fill="none" stroke="#a8a8a8" stroke-width="1.0" rx="0"/>
<rect x="765.70" y="289.50" width="10.30" height="27.00" fill="none" stroke="#cfcfcf" stroke-width="0.7" rx="1"/>
<rect x="778.00" y="288.20" width="9.00" height="6.00" fill="none" stroke="#a8a8a8" stroke-width="0.9" rx="0"/>
<line x1="782.50" y1="289.20" x2="782.50" y2="291.20" stroke="#a8a8a8" stroke-width="0.9" />
<rect x="788.20" y="293.20" width="7.50" height="3.22" fill="none" stroke="#a8a8a8" stroke-width="0.9" rx="0"/>
<path d="M788.80,296.42 V301.32 A3.15,3.38 0 0 0 795.10,301.32 V296.42" fill="none" stroke="#a8a8a8" stroke-width="0.9" stroke-linejoin="round"/>
<rect x="789.70" y="372.60" width="8.50" height="8.80" fill="none" stroke="#a8a8a8" stroke-width="0.9" rx="0"/>
<line x1="795.00" y1="377.00" x2="797.20" y2="377.00" stroke="#a8a8a8" stroke-width="0.9" />
<rect x="774.50" y="385.40" width="11.00" height="9.60" fill="#d6d6d6" stroke="#858585" stroke-width="0.9" rx="0"/>
<circle cx="777.58" cy="388.09" r="1.63" fill="#fff" stroke="#858585" stroke-width="0.8"/>
<circle cx="777.58" cy="392.31" r="1.63" fill="#fff" stroke="#858585" stroke-width="0.8"/>
<circle cx="782.42" cy="388.09" r="1.63" fill="#fff" stroke="#858585" stroke-width="0.8"/>
<circle cx="782.42" cy="392.31" r="1.63" fill="#fff" stroke="#858585" stroke-width="0.8"/>
<rect x="774.50" y="400.80" width="11.00" height="9.40" fill="#d6d6d6" stroke="#858585" stroke-width="0.9" rx="0"/>
<circle cx="777.58" cy="403.43" r="1.60" fill="#fff" stroke="#858585" stroke-width="0.8"/>
<circle cx="777.58" cy="407.57" r="1.60" fill="#fff" stroke="#858585" stroke-width="0.8"/>
<circle cx="782.42" cy="403.43" r="1.60" fill="#fff" stroke="#858585" stroke-width="0.8"/>
<circle cx="782.42" cy="407.57" r="1.60" fill="#fff" stroke="#858585" stroke-width="0.8"/>
<rect x="789.70" y="423.40" width="8.50" height="9.20" fill="none" stroke="#a8a8a8" stroke-width="0.9" rx="0"/>
<line x1="795.00" y1="428.00" x2="797.20" y2="428.00" stroke="#a8a8a8" stroke-width="0.9" />
<rect x="763.60" y="491.20" width="13.00" height="30.10" fill="none" stroke="#a8a8a8" stroke-width="1.0" rx="0"/>
<rect x="764.90" y="492.50" width="10.40" height="27.50" fill="none" stroke="#cfcfcf" stroke-width="0.7" rx="1"/>
<rect x="777.20" y="514.20" width="9.60" height="7.10" fill="none" stroke="#a8a8a8" stroke-width="0.9" rx="0"/>
<line x1="782.00" y1="518.30" x2="782.00" y2="520.30" stroke="#a8a8a8" stroke-width="0.9" />
<rect x="794.48" y="496.20" width="3.22" height="7.50" fill="none" stroke="#a8a8a8" stroke-width="0.9" rx="0"/>
<path d="M794.48,496.80 H789.58 A3.38,3.15 0 0 0 789.58,503.10 H794.48" fill="none" stroke="#a8a8a8" stroke-width="0.9" stroke-linejoin="round"/>
<rect x="763.60" y="526.80" width="13.00" height="30.00" fill="none" stroke="#a8a8a8" stroke-width="1.0" rx="0"/>
<rect x="764.90" y="528.10" width="10.40" height="27.40" fill="none" stroke="#cfcfcf" stroke-width="0.7" rx="1"/>
<rect x="777.20" y="527.00" width="9.60" height="6.90" fill="none" stroke="#a8a8a8" stroke-width="0.9" rx="0"/>
<line x1="782.00" y1="528.00" x2="782.00" y2="530.00" stroke="#a8a8a8" stroke-width="0.9" />
<rect x="807.34" y="546.20" width="3.16" height="8.10" fill="none" stroke="#a8a8a8" stroke-width="0.9" rx="0"/>
<path d="M807.34,546.80 H802.85 A3.64,3.45 0 0 0 802.85,553.70 H807.34" fill="none" stroke="#a8a8a8" stroke-width="0.9" stroke-linejoin="round"/>
<rect x="799.50" y="593.20" width="8.40" height="9.00" fill="none" stroke="#a8a8a8" stroke-width="0.9" rx="0"/>
<line x1="804.70" y1="597.70" x2="806.90" y2="597.70" stroke="#a8a8a8" stroke-width="0.9" />
<rect x="799.10" y="613.40" width="10.20" height="11.00" fill="#d6d6d6" stroke="#858585" stroke-width="0.9" rx="0"/>
<circle cx="801.96" cy="616.48" r="1.73" fill="#fff" stroke="#858585" stroke-width="0.8"/>
<circle cx="801.96" cy="621.32" r="1.73" fill="#fff" stroke="#858585" stroke-width="0.8"/>
<circle cx="806.44" cy="616.48" r="1.73" fill="#fff" stroke="#858585" stroke-width="0.8"/>
<circle cx="806.44" cy="621.32" r="1.73" fill="#fff" stroke="#858585" stroke-width="0.8"/>
<rect x="868.20" y="567.40" width="8.90" height="9.00" fill="none" stroke="#a8a8a8" stroke-width="0.9" rx="0"/>
<line x1="873.90" y1="571.90" x2="876.10" y2="571.90" stroke="#a8a8a8" stroke-width="0.9" />
<rect x="867.50" y="581.40" width="9.90" height="9.90" fill="#d6d6d6" stroke="#858585" stroke-width="0.9" rx="0"/>
<circle cx="870.27" cy="584.17" r="1.68" fill="#fff" stroke="#858585" stroke-width="0.8"/>
<circle cx="870.27" cy="588.53" r="1.68" fill="#fff" stroke="#858585" stroke-width="0.8"/>
<circle cx="874.63" cy="584.17" r="1.68" fill="#fff" stroke="#858585" stroke-width="0.8"/>
<circle cx="874.63" cy="588.53" r="1.68" fill="#fff" stroke="#858585" stroke-width="0.8"/>
<rect x="883.00" y="567.40" width="8.60" height="9.00" fill="none" stroke="#a8a8a8" stroke-width="0.9" rx="0"/>
<line x1="884.00" y1="571.90" x2="886.20" y2="571.90" stroke="#a8a8a8" stroke-width="0.9" />
<rect x="882.40" y="581.40" width="9.70" height="9.90" fill="#d6d6d6" stroke="#858585" stroke-width="0.9" rx="0"/>
<circle cx="885.12" cy="584.17" r="1.65" fill="#fff" stroke="#858585" stroke-width="0.8"/>
<circle cx="885.12" cy="588.53" r="1.65" fill="#fff" stroke="#858585" stroke-width="0.8"/>
<circle cx="889.38" cy="584.17" r="1.65" fill="#fff" stroke="#858585" stroke-width="0.8"/>
<circle cx="889.38" cy="588.53" r="1.65" fill="#fff" stroke="#858585" stroke-width="0.8"/>
<rect x="847.60" y="514.20" width="7.10" height="9.60" fill="none" stroke="#a8a8a8" stroke-width="0.9" rx="0"/>
<line x1="851.15" y1="520.80" x2="851.15" y2="522.80" stroke="#a8a8a8" stroke-width="0.9" />
<rect x="904.60" y="514.20" width="7.30" height="9.60" fill="none" stroke="#a8a8a8" stroke-width="0.9" rx="0"/>
<line x1="908.25" y1="520.80" x2="908.25" y2="522.80" stroke="#a8a8a8" stroke-width="0.9" />
<rect x="874.22" y="507.00" width="3.28" height="7.60" fill="none" stroke="#a8a8a8" stroke-width="0.9" rx="0"/>
<path d="M874.22,507.60 H869.22 A3.42,3.20 0 0 0 869.22,514.00 H874.22" fill="none" stroke="#a8a8a8" stroke-width="0.9" stroke-linejoin="round"/>
<rect x="882.40" y="507.00" width="3.16" height="7.60" fill="none" stroke="#a8a8a8" stroke-width="0.9" rx="0"/>
<path d="M885.56,507.60 H890.28 A3.42,3.20 0 0 1 890.28,514.00 H885.56" fill="none" stroke="#a8a8a8" stroke-width="0.9" stroke-linejoin="round"/>
<path d="M868.5,522.4 H877.6 V537.6 H862 V530 Z" fill="none" stroke="#808080" stroke-width="1.2" stroke-linejoin="round"/>
<path d="M890.8,522.4 H882.2 V537.6 H897.3 V530 Z" fill="none" stroke="#808080" stroke-width="1.2" stroke-linejoin="round"/>
<rect x="972.40" y="285.90" width="8.70" height="5.10" fill="none" stroke="#c9667b" stroke-width="0.9" rx="0"/>
<line x1="976.75" y1="286.90" x2="976.75" y2="288.90" stroke="#c9667b" stroke-width="0.9" />
<rect x="962.30" y="291.60" width="6.90" height="3.02" fill="none" stroke="#c9667b" stroke-width="0.9" rx="0"/>
<path d="M962.90,294.62 V299.29 A2.85,3.11 0 0 0 968.60,299.29 V294.62" fill="none" stroke="#c9667b" stroke-width="0.9" stroke-linejoin="round"/>
<rect x="982.20" y="285.90" width="12.60" height="29.90" fill="none" stroke="#c9667b" stroke-width="1.0" rx="0"/>
<rect x="983.50" y="287.20" width="10.00" height="27.30" fill="none" stroke="#dc8395" stroke-width="0.7" rx="1"/>
<rect x="961.40" y="375.00" width="8.30" height="9.60" fill="none" stroke="#c9667b" stroke-width="0.9" rx="0"/>
<line x1="962.40" y1="379.80" x2="964.60" y2="379.80" stroke="#c9667b" stroke-width="0.9" />
<rect x="973.90" y="389.80" width="11.00" height="9.90" fill="#e58fa0" stroke="#c9697d" stroke-width="0.9" rx="0"/>
<circle cx="976.98" cy="392.57" r="1.68" fill="#f09aaa" stroke="#c9697d" stroke-width="0.8"/>
<circle cx="976.98" cy="396.93" r="1.68" fill="#f09aaa" stroke="#c9697d" stroke-width="0.8"/>
<circle cx="981.82" cy="392.57" r="1.68" fill="#f09aaa" stroke="#c9697d" stroke-width="0.8"/>
<circle cx="981.82" cy="396.93" r="1.68" fill="#f09aaa" stroke="#c9697d" stroke-width="0.8"/>
<rect x="960.60" y="414.20" width="9.60" height="10.10" fill="#d6d6d6" stroke="#858585" stroke-width="0.9" rx="0"/>
<circle cx="963.29" cy="417.03" r="1.63" fill="#fff" stroke="#858585" stroke-width="0.8"/>
<circle cx="963.29" cy="421.47" r="1.63" fill="#fff" stroke="#858585" stroke-width="0.8"/>
<circle cx="967.51" cy="417.03" r="1.63" fill="#fff" stroke="#858585" stroke-width="0.8"/>
<circle cx="967.51" cy="421.47" r="1.63" fill="#fff" stroke="#858585" stroke-width="0.8"/>
<rect x="961.40" y="437.00" width="8.30" height="9.10" fill="none" stroke="#a8a8a8" stroke-width="0.9" rx="0"/>
<line x1="962.40" y1="441.55" x2="964.60" y2="441.55" stroke="#a8a8a8" stroke-width="0.9" />
<rect x="983.60" y="489.60" width="13.10" height="31.70" fill="none" stroke="#a8a8a8" stroke-width="1.0" rx="0"/>
<rect x="984.90" y="490.90" width="10.50" height="29.10" fill="none" stroke="#cfcfcf" stroke-width="0.7" rx="1"/>
<rect x="973.40" y="514.20" width="9.50" height="7.10" fill="none" stroke="#a8a8a8" stroke-width="0.9" rx="0"/>
<line x1="978.15" y1="518.30" x2="978.15" y2="520.30" stroke="#a8a8a8" stroke-width="0.9" />
<rect x="962.20" y="494.50" width="3.22" height="7.60" fill="none" stroke="#a8a8a8" stroke-width="0.9" rx="0"/>
<path d="M965.42,495.10 H970.28 A3.42,3.20 0 0 1 970.28,501.50 H965.42" fill="none" stroke="#a8a8a8" stroke-width="0.9" stroke-linejoin="round"/>
<rect x="984.20" y="526.80" width="12.50" height="29.20" fill="none" stroke="#a8a8a8" stroke-width="1.0" rx="0"/>
<rect x="985.50" y="528.10" width="9.90" height="26.60" fill="none" stroke="#cfcfcf" stroke-width="0.7" rx="1"/>
<rect x="973.90" y="527.00" width="9.40" height="6.90" fill="none" stroke="#a8a8a8" stroke-width="0.9" rx="0"/>
<line x1="978.60" y1="528.00" x2="978.60" y2="530.00" stroke="#a8a8a8" stroke-width="0.9" />
<rect x="954.40" y="529.80" width="3.22" height="8.40" fill="none" stroke="#a8a8a8" stroke-width="0.9" rx="0"/>
<path d="M957.62,530.40 H962.12 A3.78,3.60 0 0 1 962.12,537.60 H957.62" fill="none" stroke="#a8a8a8" stroke-width="0.9" stroke-linejoin="round"/>
<rect x="951.20" y="591.50" width="8.40" height="8.70" fill="none" stroke="#a8a8a8" stroke-width="0.9" rx="0"/>
<line x1="952.20" y1="595.85" x2="954.40" y2="595.85" stroke="#a8a8a8" stroke-width="0.9" />
<rect x="950.00" y="612.30" width="10.40" height="10.30" fill="#d6d6d6" stroke="#858585" stroke-width="0.9" rx="0"/>
<circle cx="952.91" cy="615.18" r="1.75" fill="#fff" stroke="#858585" stroke-width="0.8"/>
<circle cx="952.91" cy="619.72" r="1.75" fill="#fff" stroke="#858585" stroke-width="0.8"/>
<circle cx="957.49" cy="615.18" r="1.75" fill="#fff" stroke="#858585" stroke-width="0.8"/>
<circle cx="957.49" cy="619.72" r="1.75" fill="#fff" stroke="#858585" stroke-width="0.8"/>
<text x="713.60" y="129.40" font-size="23.6" fill="#3f3f3f" stroke="#3f3f3f" stroke-width="0.45" textLength="24.10" lengthAdjust="spacingAndGlyphs">2е</text>
<text x="713.45" y="143.75" font-size="13" fill="#3f3f3f" stroke="#3f3f3f" stroke-width="0.3" textLength="38.75" lengthAdjust="spacingAndGlyphs">57.6 м²</text>
<text x="1005.65" y="129.40" font-size="23.6" fill="#3f3f3f" stroke="#3f3f3f" stroke-width="0.45" textLength="23.55" lengthAdjust="spacingAndGlyphs">2е</text>
<text x="1005.50" y="143.75" font-size="13" fill="#3f3f3f" stroke="#3f3f3f" stroke-width="0.3" textLength="38.30" lengthAdjust="spacingAndGlyphs">57.8 м²</text>
<text x="714.10" y="261.60" font-size="23.6" fill="#3f3f3f" stroke="#3f3f3f" stroke-width="0.45" textLength="12.95" lengthAdjust="spacingAndGlyphs">С</text>
<text x="713.90" y="276.25" font-size="13" fill="#3f3f3f" stroke="#3f3f3f" stroke-width="0.3" textLength="36.00" lengthAdjust="spacingAndGlyphs">22.1 м²</text>
<text x="1006.00" y="261.60" font-size="23.6" fill="#3f3f3f" stroke="#3f3f3f" stroke-width="0.45" textLength="13.10" lengthAdjust="spacingAndGlyphs">С</text>
<text x="1005.50" y="276.25" font-size="13" fill="#3f3f3f" stroke="#3f3f3f" stroke-width="0.3" textLength="36.00" lengthAdjust="spacingAndGlyphs">21.3 м²</text>
<path d="M717.20,360.20 H720.00 V377.20 H717.20 V362.80 L714.50,364.90 L713.60,363.30 Z" fill="#3f3f3f"/>
<text x="722.45" y="377.20" font-size="23.6" fill="#3f3f3f" stroke="#3f3f3f" stroke-width="0.45" textLength="11.80" lengthAdjust="spacingAndGlyphs">е</text>
<text x="713.90" y="391.25" font-size="13" fill="#3f3f3f" stroke="#3f3f3f" stroke-width="0.3" textLength="39.10" lengthAdjust="spacingAndGlyphs">32.0 м²</text>
<path d="M1009.70,360.20 H1012.50 V377.20 H1009.70 V362.80 L1007.00,364.90 L1006.10,363.30 Z" fill="#9a2a41"/>
<text x="1014.95" y="377.20" font-size="23.6" fill="#9a2a41" stroke="#9a2a41" stroke-width="0.45" textLength="11.55" lengthAdjust="spacingAndGlyphs">е</text>
<text x="1005.50" y="391.25" font-size="13" fill="#9a2a41" stroke="#9a2a41" stroke-width="0.3" textLength="39.80" lengthAdjust="spacingAndGlyphs">34.4 м²</text>
<path d="M717.20,409.00 H720.00 V426.00 H717.20 V411.60 L714.50,413.70 L713.60,412.10 Z" fill="#3f3f3f"/>
<text x="722.45" y="426.00" font-size="23.6" fill="#3f3f3f" stroke="#3f3f3f" stroke-width="0.45" textLength="11.80" lengthAdjust="spacingAndGlyphs">е</text>
<text x="713.90" y="440.50" font-size="13" fill="#3f3f3f" stroke="#3f3f3f" stroke-width="0.3" textLength="38.60" lengthAdjust="spacingAndGlyphs">36.2 м²</text>
<path d="M1009.70,409.00 H1012.50 V426.00 H1009.70 V411.60 L1007.00,413.70 L1006.10,412.10 Z" fill="#3f3f3f"/>
<text x="1014.95" y="426.00" font-size="23.6" fill="#3f3f3f" stroke="#3f3f3f" stroke-width="0.45" textLength="11.55" lengthAdjust="spacingAndGlyphs">е</text>
<text x="1005.50" y="440.50" font-size="13" fill="#3f3f3f" stroke="#3f3f3f" stroke-width="0.3" textLength="39.80" lengthAdjust="spacingAndGlyphs">34.8 м²</text>
<path d="M717.20,603.00 H720.00 V620.00 H717.20 V605.60 L714.50,607.70 L713.60,606.10 Z" fill="#3f3f3f"/>
<text x="722.45" y="620.00" font-size="23.6" fill="#3f3f3f" stroke="#3f3f3f" stroke-width="0.45" textLength="11.80" lengthAdjust="spacingAndGlyphs">е</text>
<text x="713.90" y="634.40" font-size="13" fill="#3f3f3f" stroke="#3f3f3f" stroke-width="0.3" textLength="38.30" lengthAdjust="spacingAndGlyphs">37.8 м²</text>
<path d="M1009.70,603.00 H1012.50 V620.00 H1009.70 V605.60 L1007.00,607.70 L1006.10,606.10 Z" fill="#3f3f3f"/>
<text x="1014.95" y="620.00" font-size="23.6" fill="#3f3f3f" stroke="#3f3f3f" stroke-width="0.45" textLength="11.55" lengthAdjust="spacingAndGlyphs">е</text>
<text x="1005.50" y="634.40" font-size="13" fill="#3f3f3f" stroke="#3f3f3f" stroke-width="0.3" textLength="38.30" lengthAdjust="spacingAndGlyphs">37.8 м²</text>
<text x="817.40" y="620.00" font-size="23.6" fill="#3f3f3f" stroke="#3f3f3f" stroke-width="0.45" textLength="12.90" lengthAdjust="spacingAndGlyphs">С</text>
<text x="817.70" y="634.40" font-size="13" fill="#3f3f3f" stroke="#3f3f3f" stroke-width="0.3" textLength="37.60" lengthAdjust="spacingAndGlyphs">20.7 м²</text>
<text x="886.90" y="620.00" font-size="23.6" fill="#3f3f3f" stroke="#3f3f3f" stroke-width="0.45" textLength="12.90" lengthAdjust="spacingAndGlyphs">С</text>
<text x="886.70" y="634.40" font-size="13" fill="#3f3f3f" stroke="#3f3f3f" stroke-width="0.3" textLength="38.80" lengthAdjust="spacingAndGlyphs">20.7 м²</text>
<text x="253.75" y="32.70" font-size="17.6" font-weight="bold" fill="#8a8a8a" textLength="46.25" lengthAdjust="spacingAndGlyphs">ДВОР</text>
<text x="547.00" y="33.00" font-size="17.6" font-weight="bold" fill="#8a8a8a" textLength="172.50" lengthAdjust="spacingAndGlyphs">ст. D2 МОСКВОРЕЧЬЕ</text>
<text x="927.00" y="33.00" font-size="17.6" font-weight="bold" fill="#8a8a8a" textLength="115.50" lengthAdjust="spacingAndGlyphs">РЕКА МОСКВА</text>
<text x="221.00" y="722.20" font-size="17.6" font-weight="bold" fill="#8a8a8a" textLength="250.00" lengthAdjust="spacingAndGlyphs">УЛИЦА БОРИСОВСКИЕ ПРУДЫ</text>
<text x="889.00" y="722.40" font-size="17.6" font-weight="bold" fill="#8a8a8a" textLength="108.00" lengthAdjust="spacingAndGlyphs">м БОРИСОВО</text>
<path d="M206,32.5 H241" fill="none" stroke="#9a9a9a" stroke-width="1.0" stroke-linejoin="round"/>
<path d="M209.5,32.5 L211,18.3 H223.5 L225.8,32.5" fill="none" stroke="#9a9a9a" stroke-width="1.0" stroke-linejoin="round"/>
<path d="M215,20.8 V25.2 A1.9,1.9 0 0 0 218.8,25.2 V20.8" fill="none" stroke="#9a9a9a" stroke-width="1.0" stroke-linejoin="round"/>
<ellipse cx="235.3" cy="16.2" rx="5.2" ry="9" fill="none" stroke="#9a9a9a" stroke-width="1"/>
<path d="M235.3,25 V32.5" fill="none" stroke="#9a9a9a" stroke-width="1.0" stroke-linejoin="round"/>
<path d="M540,35 L519.3,19.6 M520.6,30.6 L519,19.3 L530.2,18.8" fill="none" stroke="#555" stroke-width="1.4" stroke-linejoin="round"/>
<path d="M881.2,22.6 C883.5,21 886.5,20.4 888.8,20.6 S895,23.8 898.8,23.8 S906,21.3 909.5,21.3 S913,21.8 914,22.2" fill="none" stroke="#9a9a9a" stroke-width="1.0" stroke-linejoin="round"/>
<path d="M881.2,30.6 C883.5,29 886.5,28.4 888.8,28.6 S895,31.8 898.8,31.8 S906,29.3 909.5,29.3 S913,29.8 914,30.2" fill="none" stroke="#9a9a9a" stroke-width="1.0" stroke-linejoin="round"/>
<path d="M1054,36.5 V11.5 M1046.3,19.3 L1054,11.3 L1061.7,19.3" fill="none" stroke="#555" stroke-width="1.4" stroke-linejoin="round"/>
<path d="M486,703.5 V728.5 M478.3,720.7 L486,728.7 L493.7,720.7" fill="none" stroke="#555" stroke-width="1.4" stroke-linejoin="round"/>
<path d="M1001.7,710.5 L1025.7,717.7 M1017.3,709.4 L1025.9,717.7 L1014.2,722.6" fill="none" stroke="#555" stroke-width="1.4" stroke-linejoin="round"/>
<polygon points="1195.2,608.8 1187.8,652.4 1208.8,650" fill="#d81e46"/>
<polygon points="1188.2,656.8 1209.2,655.2 1201.3,699" fill="#8a8a8a"/>
<text x="1187.8" y="601.2" font-size="19.8" font-weight="bold" fill="#d81e46" stroke="#d81e46" stroke-width="0.3" textLength="11.6" lengthAdjust="spacingAndGlyphs">С</text>
<text x="1194.6" y="719.4" font-size="19.8" font-weight="bold" fill="#858585" stroke="#858585" stroke-width="0.3" textLength="20.4" lengthAdjust="spacingAndGlyphs">Ю</text>
</svg>
</body></html>
